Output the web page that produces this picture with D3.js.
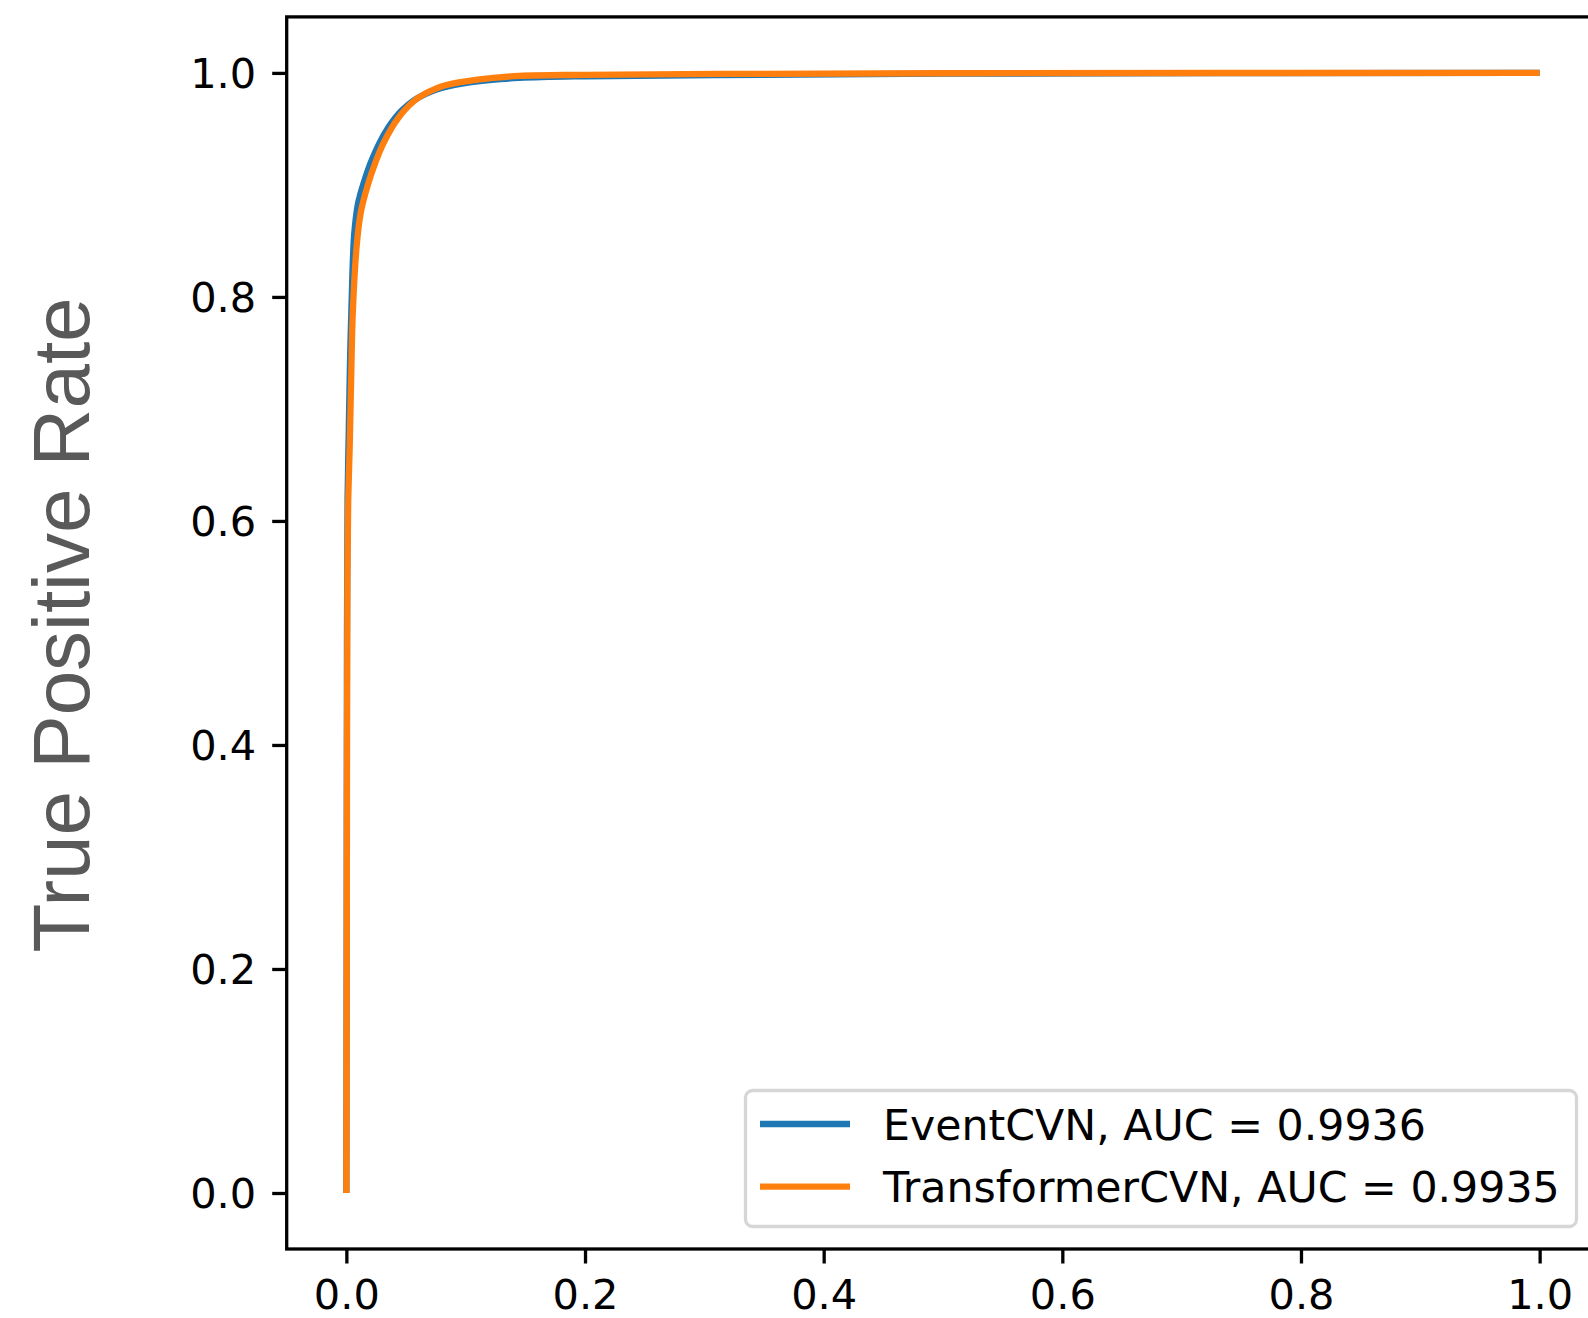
<!DOCTYPE html>
<html>
<head>
<meta charset="utf-8">
<script src="https://cdn.jsdelivr.net/npm/d3@7"></script>
<style>
  body { margin: 0; background: #fff; }
  svg text { font-family: "DejaVu Sans", sans-serif; }
</style>
</head>
<body>
<svg id="roc_svg" width="1588" height="1318"></svg>
<script>
// ROC curves (false positive rate, true positive rate)
var eventFpr = [0, 0.0002, 0.0005, 0.0010, 0.0020, 0.0030, 0.0045, 0.0065, 0.0095, 0.012, 0.014, 0.018, 0.022, 0.028, 0.035, 0.041, 0.047, 0.056, 0.066, 0.075, 0.085, 0.11, 0.145, 0.2, 0.31, 0.5, 1.0];
var eventTpr = [0, 0.20, 0.50, 0.62, 0.68, 0.74, 0.80, 0.855, 0.882, 0.893, 0.90, 0.913, 0.924, 0.938, 0.951, 0.960, 0.967, 0.975, 0.981, 0.985, 0.988, 0.9925, 0.9955, 0.997, 0.998, 0.9993, 1.0];
var transFpr = [0, 0.0002, 0.0005, 0.0009, 0.0016, 0.0028, 0.0040, 0.0054, 0.0086, 0.012, 0.018, 0.025, 0.031, 0.038, 0.043, 0.049, 0.058, 0.067, 0.075, 0.083, 0.11, 0.145, 0.2, 0.313, 0.5, 1.0];
var transTpr = [0, 0.10, 0.35, 0.55, 0.62, 0.666, 0.726, 0.786, 0.845, 0.875, 0.90, 0.922, 0.937, 0.951, 0.959, 0.967, 0.976, 0.982, 0.986, 0.989, 0.994, 0.9973, 0.9983, 0.9991, 0.9997, 1.0];
var seriesNames = ["EventCVN, AUC = 0.9936", "TransformerCVN, AUC = 0.9935"];
var seriesColors = ["#1f77b4", "#ff7f0e"];
var tickValues = [0, 0.2, 0.4, 0.6, 0.8, 1.0];

(function () {
  var svg = d3.select("svg#roc_svg");
  var left = 286.7, top = 16.9, right = 1599.3, bottom = 1249;

  var x = d3.scaleLinear().domain([-0.05, 1.05]).range([left, right]);
  var y = d3.scaleLinear().domain([-0.05, 1.05]).range([bottom, top]);

  svg.append("defs").append("clipPath").attr("id", "plotclip")
     .append("rect").attr("x", left).attr("y", top)
     .attr("width", right - left).attr("height", bottom - top);

  var series = [
    eventFpr.map((d, i) => [d, eventTpr[i]]),
    transFpr.map((d, i) => [d, transTpr[i]])
  ];

  var line = d3.line()
      .x(d => x(d[0])).y(d => y(d[1]))
      .curve(d3.curveCatmullRom.alpha(0.5));

  var glines = svg.append("g").attr("clip-path", "url(#plotclip)");
  series.forEach(function (s, i) {
    glines.append("path").datum(s)
      .attr("d", line)
      .attr("fill", "none")
      .attr("stroke", seriesColors[i])
      .attr("stroke-width", 6.3)
      .attr("stroke-linejoin", "round");
  });

  // axes
  var xAxis = d3.axisBottom(x).tickValues(tickValues).tickFormat(d3.format(".1f"))
      .tickSize(14.5).tickPadding(16);
  var gx = svg.append("g").attr("transform", "translate(0," + bottom + ")").call(xAxis);
  var yAxis = d3.axisLeft(y).tickValues(tickValues).tickFormat(d3.format(".1f"))
      .tickSize(14.5).tickPadding(16);
  var gy = svg.append("g").attr("transform", "translate(" + left + ",0)").call(yAxis);
  [gx, gy].forEach(function (g) {
    g.select(".domain").remove();
    g.selectAll(".tick line").attr("stroke", "#000").attr("stroke-width", 3.3);
    g.selectAll(".tick text").attr("fill", "#000")
      .style("font-family", "'DejaVu Sans', sans-serif").style("font-size", "41.5px");
  });
  gx.selectAll(".tick text").attr("dy", null).attr("y", 0)
    .attr("transform", "translate(0,60)");
  gy.selectAll(".tick text").attr("dy", "0.36em");

  // frame
  svg.append("rect").attr("x", left).attr("y", top)
     .attr("width", right - left).attr("height", bottom - top)
     .attr("fill", "none").attr("stroke", "#000").attr("stroke-width", 3.3);

  // y label
  svg.append("text")
     .attr("transform", "translate(88.5," + ((top + bottom) / 2 - 8) + ") rotate(-90)")
     .attr("text-anchor", "middle")
     .style("font-family", "'Liberation Sans', Arial, sans-serif")
     .style("font-size", "80px")
     .attr("fill", "#595959")
     .text("True Positive Rate");

  // legend
  var lg = svg.append("g");
  lg.append("rect").attr("x", 745.5).attr("y", 1090.5).attr("width", 831).attr("height", 136)
    .attr("rx", 7).attr("fill", "#fff").attr("fill-opacity", 0.8)
    .attr("stroke", "#d6d6d6").attr("stroke-width", 3.3);
  seriesNames.forEach(function (name, i) {
    var yy = 1124 + i * 62.7;
    lg.append("line").attr("x1", 760).attr("x2", 850).attr("y1", yy).attr("y2", yy)
      .attr("stroke", seriesColors[i]).attr("stroke-width", 6.3);
    lg.append("text").attr("x", 883).attr("y", yy + 15.5)
      .style("font-size", "42.7px").attr("fill", "#000").text(name);
  });
})();
</script>
</body>
</html>
